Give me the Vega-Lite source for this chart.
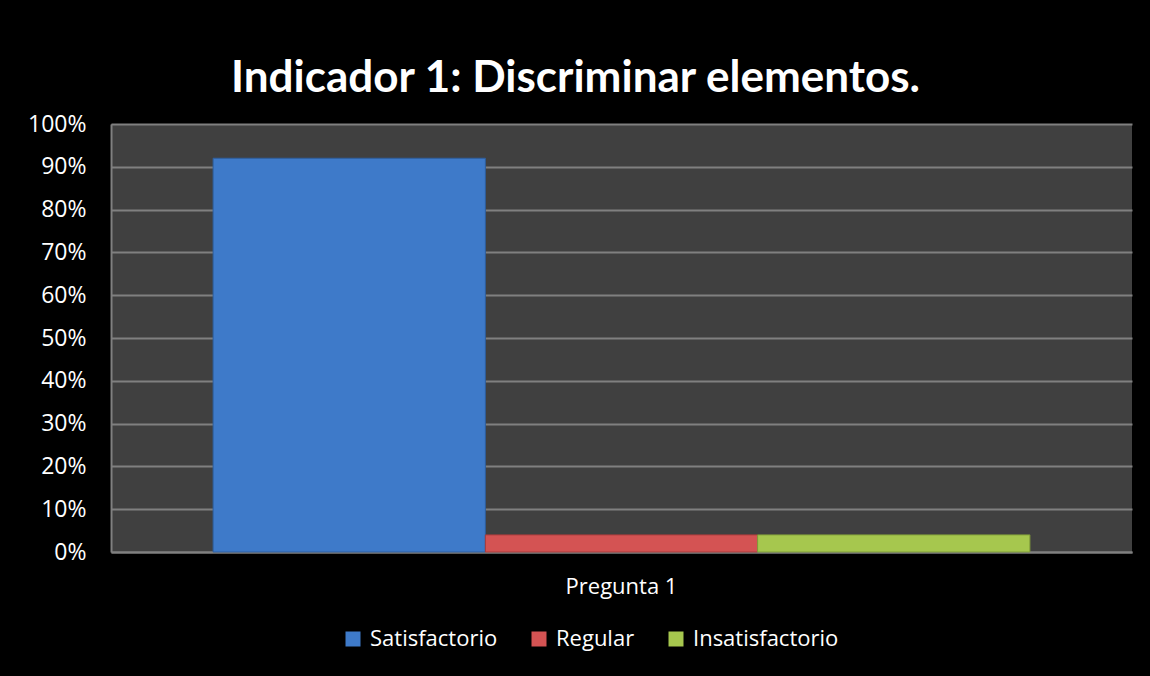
{
  "$schema": "https://vega.github.io/schema/vega-lite/v6.json",
  "autosize": {"type": "none"},
  "width": 1021,
  "height": 428,
  "padding": {"left": 111, "top": 124, "right": 18, "bottom": 124},
  "background": "#000000",
  "title": {
    "text": "Indicador 1: Discriminar elementos.",
    "font": "Lato",
    "fontSize": 44,
    "fontWeight": "bold",
    "color": "#ffffff",
    "anchor": "middle",
    "frame": "group",
    "dx": -46,
    "offset": -23,
    "baseline": "alphabetic"
  },
  "data": {
    "values": [
      {"pregunta": "Pregunta 1", "nivel": "Satisfactorio", "valor": 0.92},
      {"pregunta": "Pregunta 1", "nivel": "Regular", "valor": 0.04},
      {"pregunta": "Pregunta 1", "nivel": "Insatisfactorio", "valor": 0.04}
    ]
  },
  "mark": {"type": "bar", "strokeWidth": 1},
  "encoding": {
    "x": {
      "field": "pregunta",
      "type": "nominal",
      "scale": {"paddingInner": 0, "paddingOuter": 0.125},
      "axis": {
        "title": null,
        "labelAngle": 0,
        "labelFont": "Open Sans",
        "labelFontSize": 22,
        "labelColor": "#ffffff",
        "labelPadding": 24,
        "ticks": false,
        "domainColor": "#808080",
        "domainWidth": 2
      }
    },
    "xOffset": {
      "field": "nivel",
      "type": "nominal",
      "sort": ["Satisfactorio", "Regular", "Insatisfactorio"],
      "scale": {"paddingInner": 0, "paddingOuter": 0}
    },
    "y": {
      "field": "valor",
      "type": "quantitative",
      "scale": {"domain": [0, 1]},
      "axis": {
        "title": null,
        "format": ".0%",
        "values": [0, 0.1, 0.2, 0.3, 0.4, 0.5, 0.6, 0.7, 0.8, 0.9, 1],
        "labelFont": "Open Sans",
        "labelFontSize": 23,
        "labelColor": "#ffffff",
        "labelPadding": 25,
        "ticks": false,
        "grid": true,
        "gridColor": "#808080",
        "gridWidth": 2,
        "domainColor": "#808080",
        "domainWidth": 2
      }
    },
    "color": {
      "field": "nivel",
      "type": "nominal",
      "sort": ["Satisfactorio", "Regular", "Insatisfactorio"],
      "scale": {
        "domain": ["Satisfactorio", "Regular", "Insatisfactorio"],
        "range": ["#3E7AC9", "#D45353", "#A6C74E"]
      },
      "legend": {
        "title": null,
        "orient": "none",
        "direction": "horizontal",
        "legendX": 231,
        "legendY": 504,
        "symbolType": "square",
        "symbolSize": 225,
        "symbolStrokeWidth": 0,
        "labelFont": "Open Sans",
        "labelFontSize": 22,
        "labelColor": "#ffffff",
        "labelOffset": 6,
        "columnPadding": 30
      }
    },
    "stroke": {
      "field": "nivel",
      "type": "nominal",
      "scale": {
        "domain": ["Satisfactorio", "Regular", "Insatisfactorio"],
        "range": ["#2E5E9E", "#A83C3C", "#7F9C38"]
      },
      "legend": null
    }
  },
  "config": {
    "view": {"fill": "#404040", "stroke": null}
  }
}
